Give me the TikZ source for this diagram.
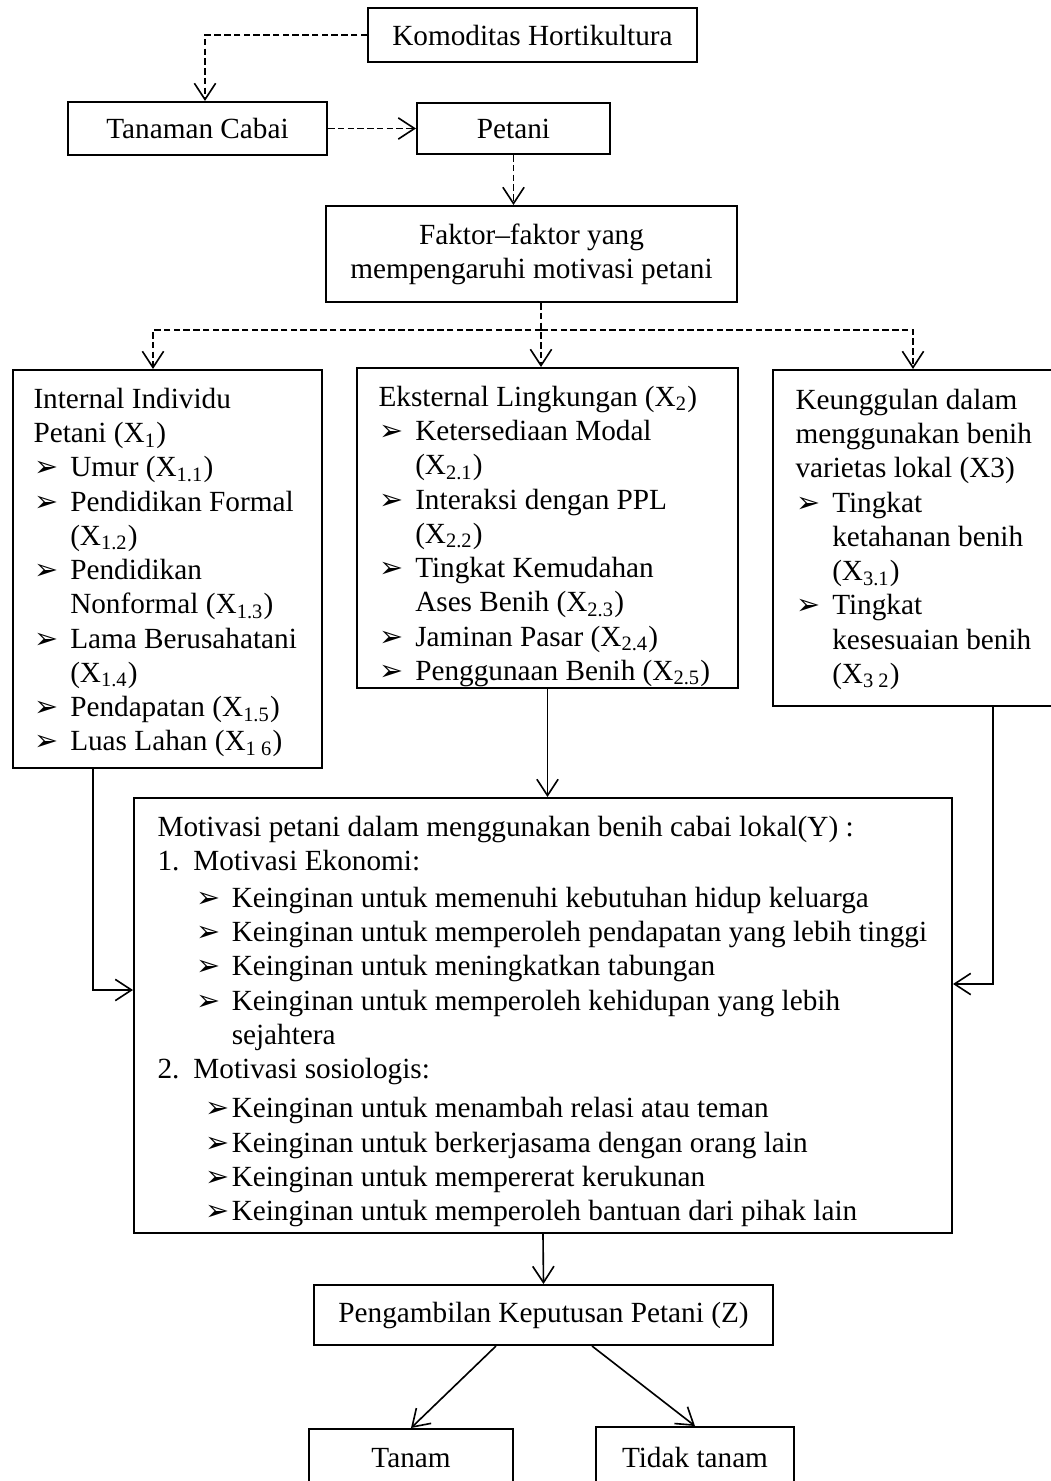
\documentclass[tikz,border=0pt]{standalone}
\usepackage{fontspec}
\setmainfont{Liberation Serif}
\newfontfamily\symfont{DejaVu Sans}
\usepackage{tikz}
\usetikzlibrary{arrows.meta}
\newcommand{\X}[1]{X\textsubscript{#1}}
\newcommand{\itm}[1][14.2pt]{\hspace*{0.5pt}\makebox[#1][l]{\symfont\fontsize{11.5}{11.5}\selectfont ➢}}
\newcommand{\hang}{\hspace*{14.7pt}}

\begin{document}
\begin{tikzpicture}[x=0.4pt,y=-0.4pt,
  font=\fontsize{11.7}{13.7}\selectfont,
  sz/.style 2 args={minimum width=#1*0.4pt,minimum height=#2*0.4pt},
  box/.style={draw,line width=0.8pt,inner sep=0pt,align=center},
  txt/.style={anchor=north west,inner sep=0pt,align=left},
  sar/.style={-{Straight Barb[length=6.5pt,width=8.5pt]},line width=0.65pt},
  dar/.style={sar,dash pattern=on 2.6pt off 1.3pt}]
  \useasboundingbox (0,0) rectangle (1051,1481);
  \clip (0,0) rectangle (1051,1481);
  % top chain
  \node[box,sz={329}{54}] (kom) at (532.5,35) {Komoditas Hortikultura};
  \node[box,sz={259}{53}] (tan) at (197.5,128.5) {Tanaman Cabai};
  \node[box,sz={193}{51}] (pet) at (513.5,128.5) {Petani};
  \node[box,sz={411}{96}] (fak) at (531.5,254) {Faktor–faktor yang\\mempengaruhi motivasi petani};
  % three factor groups
  \node[box,sz={309}{398}] (x1) at (167.5,569) {};
  \node[box,sz={381}{320}] (x2) at (547.5,528) {};
  \node[box,sz={292}{336}] (x3) at (919,538) {};
  \node[txt] (x1t) at (33,387.5) {Internal Individu\\Petani (\X{1})\\
    \itm Umur (\X{1.1})\\\itm Pendidikan Formal\\\hang(\X{1.2})\\
    \itm Pendidikan\\\hang Nonformal (\X{1.3})\\\itm Lama Berusahatani\\\hang(\X{1.4})\\
    \itm Pendapatan (\X{1.5})\\\itm Luas Lahan (\X{1 6})};
  \node[txt] (x2t) at (378,385.5) {Eksternal Lingkungan (\X{2})\\
    \itm Ketersediaan Modal\\\hang(\X{2.1})\\\itm Interaksi dengan PPL\\\hang(\X{2.2})\\
    \itm Tingkat Kemudahan\\\hang Ases Benih (\X{2.3})\\\itm Jaminan Pasar (\X{2.4})\\
    \itm Penggunaan Benih (\X{2.5})};
  \node[txt] (x3t) at (795,388.5) {Keunggulan dalam\\menggunakan benih\\varietas lokal (X3)\\
    \itm Tingkat\\\hang ketahanan benih\\\hang(\X{3.1})\\\itm Tingkat\\
    \hang kesesuaian benih\\\hang(\X{3 2})};
  % motivation and decision
  \node[box,sz={818}{435}] (mot) at (543,1015.5) {};
  \node[txt] (mott) at (157,815.5) {Motivasi petani dalam menggunakan benih cabai lokal(Y) :\\
    \makebox[14.4pt][l]{1.}Motivasi Ekonomi:\\[1pt]
    \hspace*{15pt}\itm Keinginan untuk memenuhi kebutuhan hidup keluarga\\
    \hspace*{15pt}\itm Keinginan untuk memperoleh pendapatan yang lebih tinggi\\
    \hspace*{15pt}\itm Keinginan untuk meningkatkan tabungan\\
    \hspace*{15pt}\itm Keinginan untuk memperoleh kehidupan yang lebih\\
    \hspace*{29.7pt}sejahtera\\
    \makebox[14.4pt][l]{2.}Motivasi sosiologis:\\[2pt]
    \hspace*{18.5pt}\itm[10.7pt]Keinginan untuk menambah relasi atau teman\\
    \hspace*{18.5pt}\itm[10.7pt]Keinginan untuk berkerjasama dengan orang lain\\
    \hspace*{18.5pt}\itm[10.7pt]Keinginan untuk mempererat kerukunan\\
    \hspace*{18.5pt}\itm[10.7pt]Keinginan untuk memperoleh bantuan dari pihak lain};
  \node[box,sz={459}{60}] (kep) at (543.5,1315) {Pengambilan Keputusan Petani (Z)};
  \node[box,sz={204}{58}] (tnm) at (411,1458) {Tanam};
  \node[box,sz={198}{60}] (tdk) at (695,1457) {Tidak tanam};
  % connectors
  \coordinate (hub) at (541,330);
  \coordinate (hubL) at (153,330);
  \coordinate (hubR) at (913,330);
  \coordinate (lc) at (93,990);
  \coordinate (rc) at (993,984);
  \draw[dar] (kom.west) -| ([xshift=3pt]tan.north);
  \draw[dar] (tan.east) -- (pet.west);
  \draw[dar] (pet.south) -- (pet.south |- fak.north);
  \draw[dar] (fak.south -| hub) -- (hub |- x2.north);
  \draw[dar] (hub) -- (hubL) -- (hubL |- x1.north);
  \draw[dar] (hub) -- (hubR) -- (hubR |- x3.north);
  \draw[sar] (x1.south -| lc) -- (lc) -- (lc -| mot.west);
  \draw[sar] (x3.south -| rc) -- (rc) -- (rc -| mot.east);
  \draw[sar] (x2.south) -- (x2.south |- mot.north);
  \draw[sar] (mot.south) -- (kep.north);
  \draw[sar] ([xshift=-19pt]kep.south) -- (tnm.north);
  \draw[sar] ([xshift=19.4pt]kep.south) -- (tdk.north);
\end{tikzpicture}
\end{document}
